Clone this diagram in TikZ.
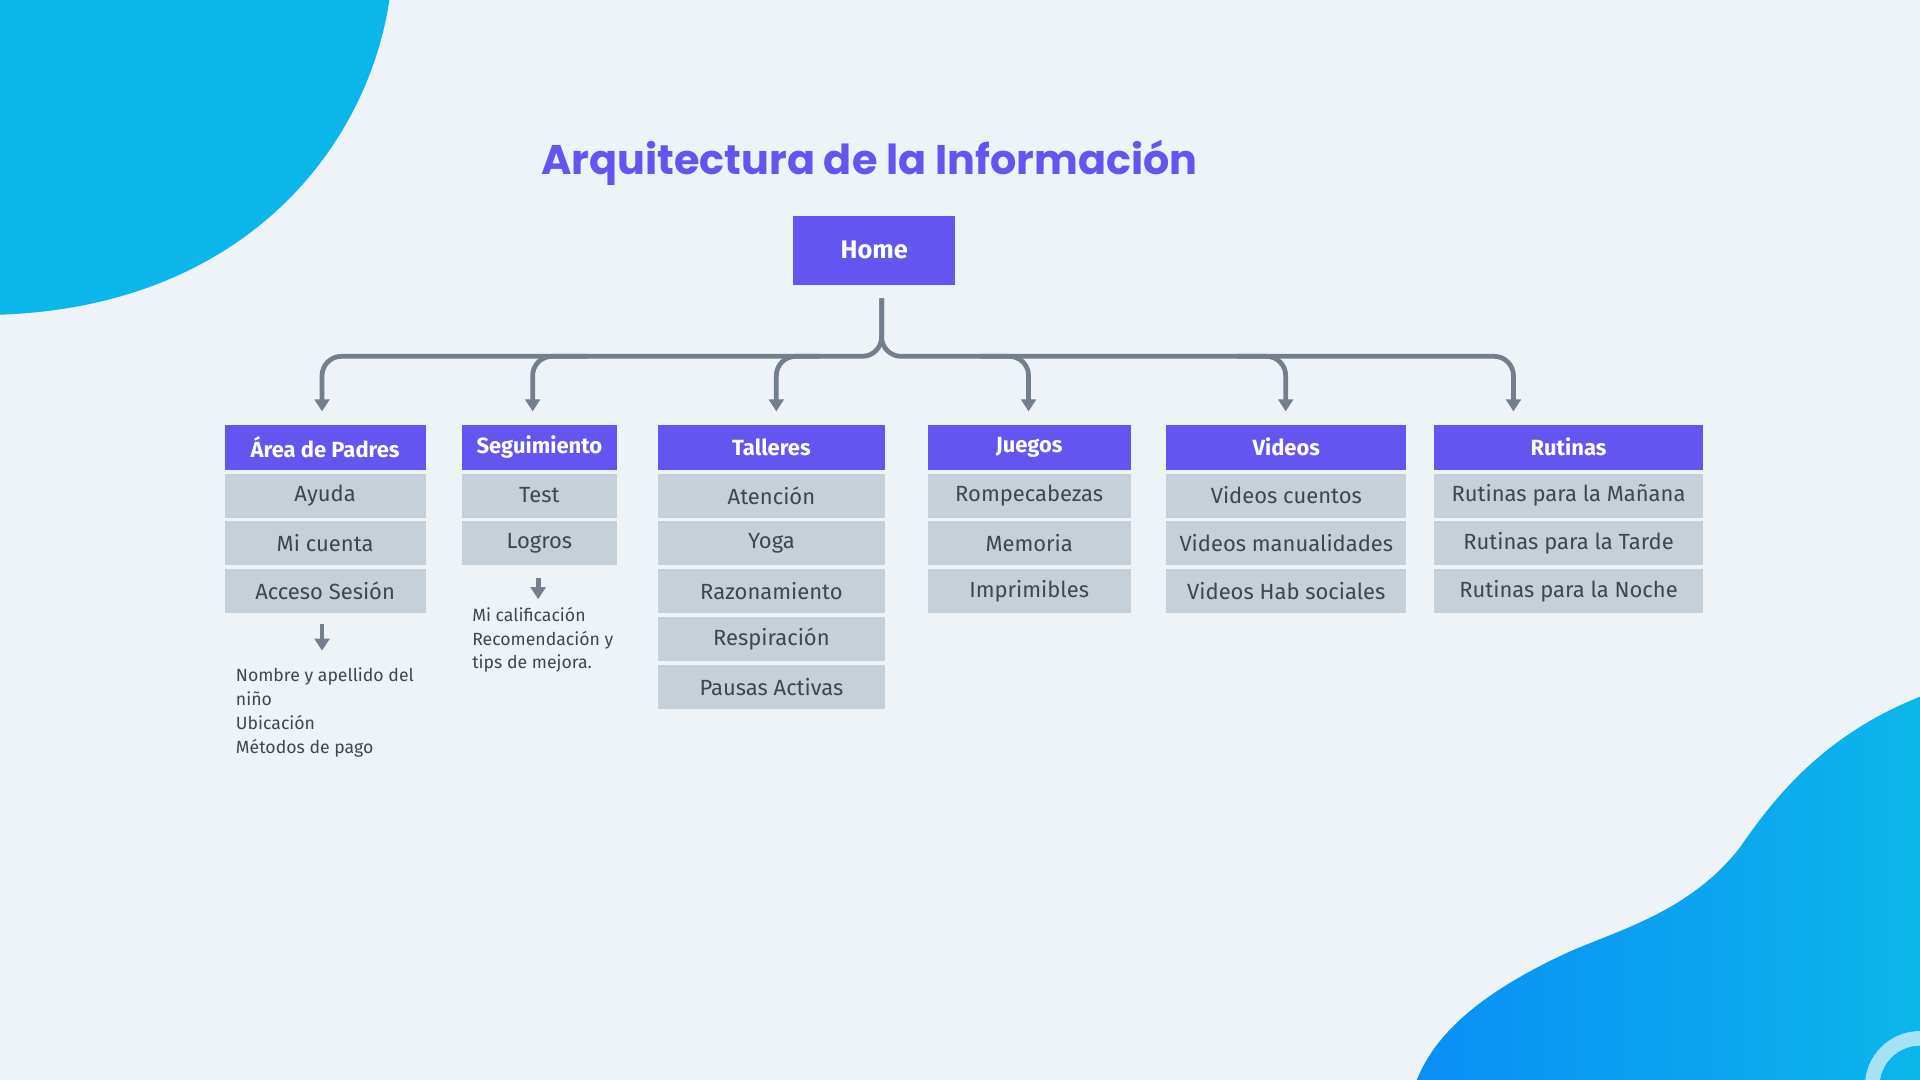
\documentclass[tikz,border=0pt]{standalone}
\usepackage{fontspec}
\setmainfont{Fira Sans}
\newfontfamily\titlefont{Poppins}
\usetikzlibrary{arrows.meta,calc}
\definecolor{bg}{HTML}{EEF3F7}
\definecolor{hdr}{HTML}{6455F0}
\definecolor{rowc}{HTML}{C6D0D9}
\definecolor{txt}{HTML}{3E4650}
\definecolor{lnc}{HTML}{737F8C}
\definecolor{blobA}{HTML}{0BB6EA}
\definecolor{blobB}{HTML}{0A8EF6}
\definecolor{ringc}{HTML}{A6E2F5}
\begin{document}
\begin{tikzpicture}[x=0.01cm,y=-0.01cm,
  hdrs/.style={fill=hdr,text=white,anchor=north,minimum height=37*0.01cm,inner sep=0pt,font=\fontsize{5.1}{6}\selectfont\bfseries},
  rows/.style={fill=rowc,text=txt,anchor=north,minimum height=36*0.01cm,inner sep=0pt,font=\fontsize{5.1}{6}\selectfont},
  conn/.style={draw=lnc,line width=1.1pt,rounded corners=4.5pt,-{Triangle[width=3.4pt,length=2.8pt]}},
  note/.style={anchor=north west,text=txt,align=left,font=\fontsize{4.1}{5.55}\selectfont,inner sep=0pt}]
\clip (0,0) rectangle (1568,882);
\fill[bg] (0,0) rectangle (1568,882);
\fill[blobA] (0,0) -- (318,0) .. controls (300,120) and (200,250) .. (0,257) -- cycle;
\shade[left color=blobB,right color=blobA] (1568,569) .. controls (1490,600) and (1450,650) .. (1421,692) .. controls (1380,745) and (1320,760) .. (1280,778) .. controls (1200,815) and (1170,850) .. (1157,882) -- (1568,882) -- cycle;
\draw[ringc,line width=3.4pt] (1568,887) circle (39);
\node[text=hdr,font=\fontsize{9.6}{11}\titlefont\bfseries] (title) at (710,133) {Arquitectura de la Información};
\node[fill=hdr,text=white,minimum width=132*0.01cm,minimum height=57*0.01cm,font=\fontsize{5.9}{7}\selectfont\bfseries] (home) at (714,204.5) {Home};
% columns
\def\col#1#2#3#4{\node[hdrs,minimum width=#3*0.01cm] (#1) at (#2,346) {#4};}
\col{a}{265.5}{164}{Área de Padres}
\col{s}{440.5}{126}{Seguimiento}
\col{t}{630}{185}{Talleres}
\col{j}{840.5}{166}{Juegos}
\col{v}{1050.5}{196}{Videos}
\col{r}{1281}{219}{Rutinas}
\def\row#1#2#3#4#5{\node[rows,minimum width=#3*0.01cm] (#1) at (#2,#4) {#5};}
\row{a1}{265.5}{164}{386}{Ayuda}
\row{a2}{265.5}{164}{425}{Mi cuenta}
\row{a3}{265.5}{164}{464}{Acceso Sesión}
\row{s1}{440.5}{126}{386}{Test}
\row{s2}{440.5}{126}{425}{Logros}
\row{t1}{630}{185}{386}{Atención}
\row{t2}{630}{185}{425}{Yoga}
\row{t3}{630}{185}{464}{Razonamiento}
\row{t4}{630}{185}{503}{Respiración}
\row{t5}{630}{185}{542}{Pausas Activas}
\row{j1}{840.5}{166}{386}{Rompecabezas}
\row{j2}{840.5}{166}{425}{Memoria}
\row{j3}{840.5}{166}{464}{Imprimibles}
\row{v1}{1050.5}{196}{386}{Videos cuentos}
\row{v2}{1050.5}{196}{425}{Videos manualidades}
\row{v3}{1050.5}{196}{464}{Videos Hab sociales}
\row{r1}{1281}{219}{386}{Rutinas para la Mañana}
\row{r2}{1281}{219}{425}{Rutinas para la Tarde}
\row{r3}{1281}{219}{464}{Rutinas para la Noche}
% connectors
\coordinate (stem) at ($(home.south)+(6,10)$);
\draw[conn] (stem) |- ($(a.north)+(-2.5,-55)$) -- ($(a.north)+(-2.5,-10)$);
\draw[conn] (stem) |- ($(r.north)+(-45,-55)$) -- ($(r.north)+(-45,-10)$);
\draw[conn] ($(s.north)+(40,-55)$) -| ($(s.north)+(-5.5,-10)$);
\draw[conn] ($(t.north)+(40,-55)$) -| ($(t.north)+(4,-10)$);
\draw[conn] ($(j.north)+(-40,-55)$) -| ($(j.north)+(-0.5,-10)$);
\draw[conn] ($(v.north)+(-40,-55)$) -| ($(v.north)+(-0.5,-10)$);
% notes
\coordinate (an) at (192,545);
\coordinate (sn) at (385,495);
\draw[conn] ($(a3.south)+(-2.5,8)$) -- ($(a3.south)+(-2.5,30)$);
\draw[conn] ($(s2.south)+(-1,10)$) -- ($(s2.south)+(-1,27)$);
\node[note] (an1) at (an) {Nombre y apellido del\\niño\\Ubicación\\Métodos de pago};
\node[note] (sn1) at (sn) {Mi calificación\\Recomendación y\\tips de mejora.};
\end{tikzpicture}
\end{document}
